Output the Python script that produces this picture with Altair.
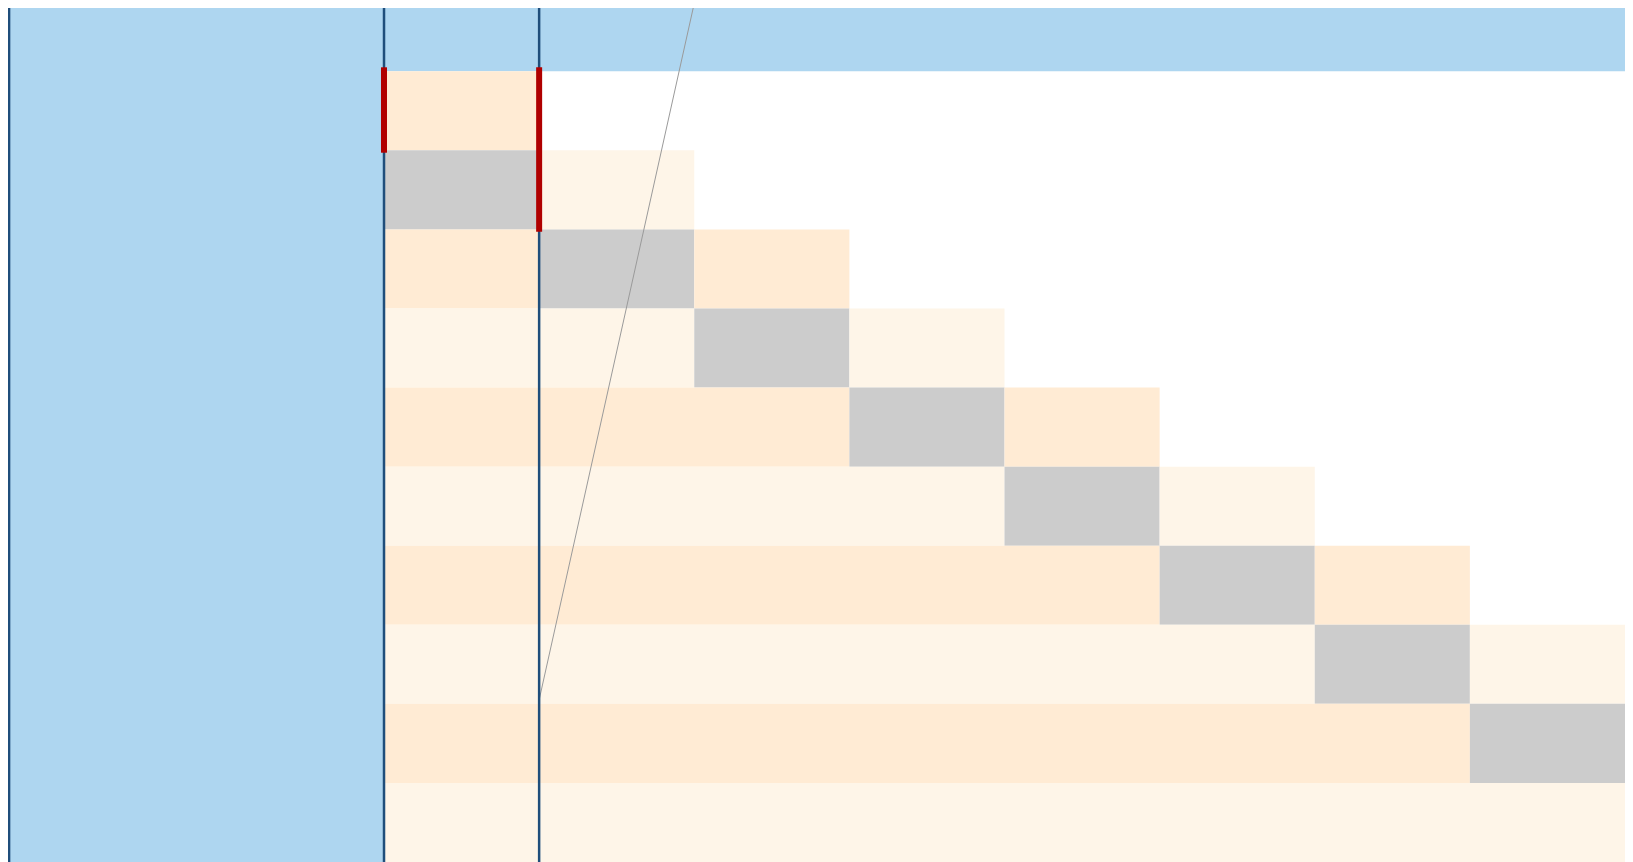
import altair as alt
import pandas as pd

# ---- data ----
# grid of 10 rows x 8 columns: O = orange, L = light cream, G = gray, . = empty
row_patterns = [
    "O.......",
    "GL......",
    "OGO.....",
    "LLGL....",
    "OOOGO...",
    "LLLLGL..",
    "OOOOOGO.",
    "LLLLLLGL",
    "OOOOOOOG",
    "LLLLLLLL",
]
cell_colors = {"O": "#FFEBD4", "L": "#FEF5E8", "G": "#CCCCCC"}

left_edge = -2.424          # left edge of the blue region (column units)
grid_right = 8              # right edge of the grid
band_top = -0.86            # top of the blue band (row units)
grid_bottom = 10

divider_x = [-2.417, 0, 1]  # dark vertical lines
red_x = [0, 1]
red_y0 = [-0.05, -0.05]
red_y1 = [1.03, 2.03]

diag_x = [1, 2]
diag_y = [7.95, -0.86]

# ---- build tables ----
runs = []
for r, pat in enumerate(row_patterns):
    c = 0
    while c < len(pat):
        ch = pat[c]
        if ch == ".":
            c += 1
            continue
        start = c
        while c < len(pat) and pat[c] == ch:
            c += 1
        runs.append({"x": start, "x2": c, "y": r, "y2": r + 1, "color": cell_colors[ch]})
cells = pd.DataFrame(runs)

blue = pd.DataFrame({
    "x": [left_edge, left_edge],
    "x2": [grid_right, 0],
    "y": [band_top, band_top],
    "y2": [0, grid_bottom],
})
dividers = pd.DataFrame({"x": divider_x, "y": [band_top] * 3, "y2": [grid_bottom] * 3})
reds = pd.DataFrame({"x": red_x, "y": red_y0, "y2": red_y1})
diag = pd.DataFrame({"x": [diag_x[0]], "x2": [diag_x[1]], "y": [diag_y[0]], "y2": [diag_y[1]]})

xs = alt.Scale(domain=[left_edge, grid_right], nice=False, zero=False)
ys = alt.Scale(domain=[-0.8, grid_bottom], nice=False, zero=False, reverse=True)

X = lambda: alt.X("x:Q", scale=xs, axis=None)
Y = lambda: alt.Y("y:Q", scale=ys, axis=None)

blue_layer = alt.Chart(blue).mark_rect(color="#AED6F0").encode(x=X(), x2="x2:Q", y=Y(), y2="y2:Q")
cell_layer = alt.Chart(cells).mark_rect().encode(
    x=X(), x2="x2:Q", y=Y(), y2="y2:Q", color=alt.Color("color:N", scale=None)
)
diag_layer = alt.Chart(diag).mark_rule(color="#9A9A9A", strokeWidth=1).encode(
    x=X(), x2="x2:Q", y=Y(), y2="y2:Q"
)
div_layer = alt.Chart(dividers).mark_rule(color="#1F4E7B", strokeWidth=2.5).encode(
    x=X(), y=Y(), y2="y2:Q"
)
red_layer = alt.Chart(reds).mark_rule(color="#B00000", strokeWidth=6).encode(
    x=X(), y=Y(), y2="y2:Q"
)

chart = (
    alt.layer(blue_layer, cell_layer, diag_layer, div_layer, red_layer)
    .properties(width=1617, height=854, padding=0, autosize=alt.AutoSizeParams(type="none"),
                background="white")
    .configure_view(stroke=None)
)

chart.save("out.html", embed_options={"renderer": "svg", "actions": False})
